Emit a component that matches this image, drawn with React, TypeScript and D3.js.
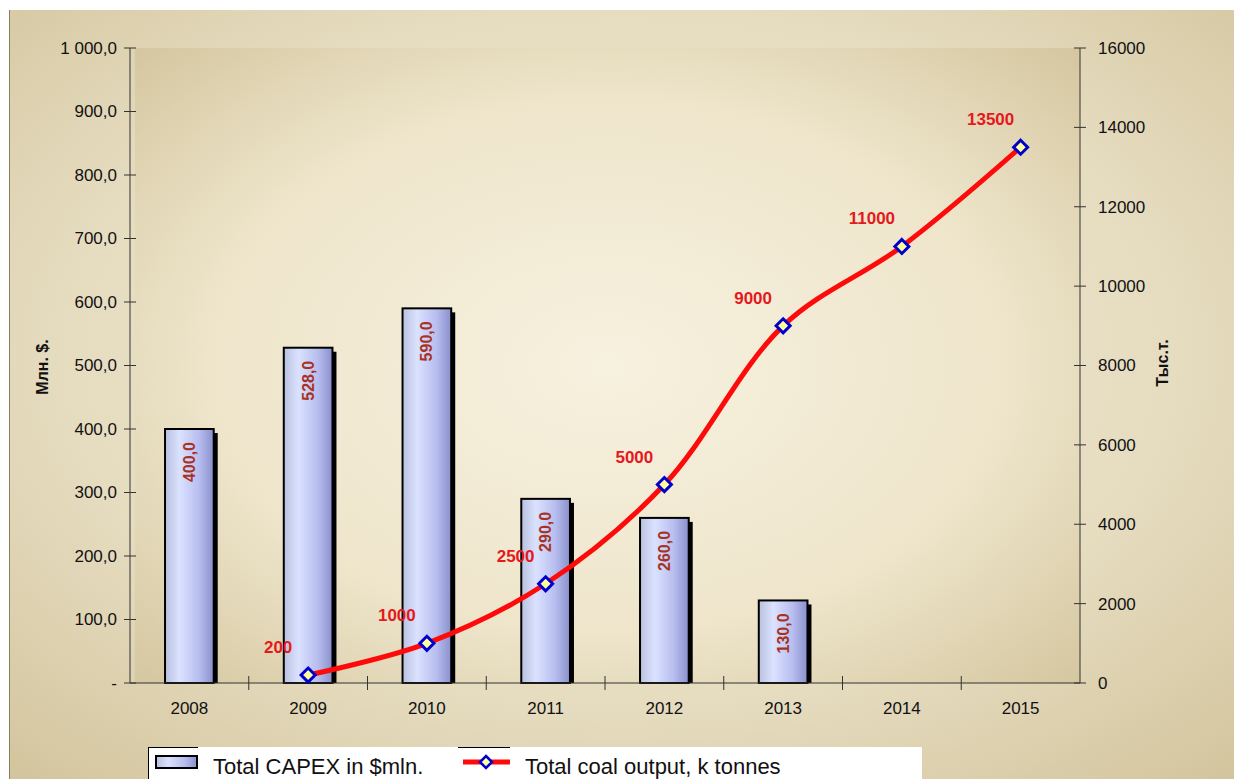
import * as d3 from "d3";
import React from "react";

const years = ["2008", "2009", "2010", "2011", "2012", "2013", "2014", "2015"];
const capex: (number | null)[] = [400, 528, 590, 290, 260, 130, null, null];
const coal: (number | null)[] = [null, 200, 1000, 2500, 5000, 9000, 11000, 13500];
const leftTicks = [0, 100, 200, 300, 400, 500, 600, 700, 800, 900, 1000];
const rightTicks = [0, 2000, 4000, 6000, 8000, 10000, 12000, 14000, 16000];

const W = 1234;
const H = 779;
const margin = { top: 48, right: 154, bottom: 96, left: 130 };
const FONT = "Liberation Sans, Arial, sans-serif";

function fmtLeft(v: number) {
  if (v === 0) return "-";
  const s = v.toFixed(1).replace(".", ",");
  const [i, f] = s.split(",");
  return i.replace(/\B(?=(\d{3})+(?!\d))/g, " ") + "," + f;
}

export default function App() {
  const x0 = margin.left;
  const x1 = W - margin.right;
  const y0 = H - margin.bottom;
  const y1 = margin.top;

  const x = d3.scaleBand<string>().domain(years).range([x0, x1]);
  const yL = d3.scaleLinear().domain([0, 1000]).range([y0, y1]);
  const yR = d3.scaleLinear().domain([0, 16000]).range([y0, y1]);
  const barW = x.bandwidth() * 0.41;
  const cx = (yr: string) => (x(yr) ?? 0) + x.bandwidth() / 2;

  const pts = years
    .map((yr, i) => ({ yr, v: coal[i] }))
    .filter(d => d.v != null) as { yr: string; v: number }[];
  const line = d3
    .line<{ yr: string; v: number }>()
    .x(d => cx(d.yr))
    .y(d => yR(d.v))
    .curve(d3.curveCatmullRom.alpha(0.5));

  const diamond = (px: number, py: number, r = 7) =>
    `M${px},${py - r}L${px + r},${py}L${px},${py + r}L${px - r},${py}Z`;

  return (
    <svg
      width={W}
      height={H}
      style={{ position: "absolute", left: 0, top: 0, fontFamily: FONT }}
    >
      <defs>
        <radialGradient id="outerBg" cx="50%" cy="45%" r="75%">
          <stop offset="0%" stopColor="#f1e9d2" />
          <stop offset="60%" stopColor="#e6dcc0" />
          <stop offset="100%" stopColor="#d2c49c" />
        </radialGradient>
        <radialGradient id="innerBg" cx="50%" cy="50%" r="70%">
          <stop offset="0%" stopColor="#f7f1df" />
          <stop offset="60%" stopColor="#eee5cb" />
          <stop offset="100%" stopColor="#d5c7a0" />
        </radialGradient>
        <linearGradient id="barGrad" x1="0" x2="1" y1="0" y2="0">
          <stop offset="0%" stopColor="#b9c1de" />
          <stop offset="30%" stopColor="#dbe2ff" />
          <stop offset="70%" stopColor="#b7bdee" />
          <stop offset="100%" stopColor="#8990cc" />
        </linearGradient>
      </defs>

      <rect x={0} y={0} width={W} height={H} fill="#ffffff" />
      <rect x={9} y={10} width={W - 9} height={H - 10} fill="url(#outerBg)" />
      <line x1={9.5} x2={9.5} y1={10} y2={H} stroke="#8a7d60" strokeWidth={1} />
      <rect x={x0 + 5} y={y1} width={x1 - x0 - 5} height={y0 - y1} fill="url(#innerBg)" />

      {/* bars */}
      {years.map((yr, i) => {
        const v = capex[i];
        if (v == null) return null;
        const bx = cx(yr) - barW / 2;
        const by = yL(v);
        return (
          <g key={yr}>
            <rect x={bx + 4} y={by + 4} width={barW} height={y0 - by - 4} fill="#000" />
            <rect
              x={bx}
              y={by}
              width={barW}
              height={y0 - by}
              fill="url(#barGrad)"
              stroke="#000"
              strokeWidth={2}
            />
            <text
              transform={`translate(${cx(yr)},${by + 13}) rotate(-90)`}
              textAnchor="end"
              dy="0.35em"
              fontSize={16}
              fontWeight="bold"
              fill="#a8321f"
            >
              {fmtLeft(v)}
            </text>
          </g>
        );
      })}

      {/* axes */}
      <g stroke="#333" strokeWidth={1} fill="none">
        <line x1={x0} x2={x0} y1={y1} y2={y0} />
        <line x1={x1} x2={x1} y1={y1} y2={y0} />
        <line x1={x0} x2={x1} y1={y0} y2={y0} />
        {leftTicks.map(t => (
          <line key={t} x1={x0 - 6} x2={x0 + 6} y1={yL(t)} y2={yL(t)} />
        ))}
        {rightTicks.map(t => (
          <line key={t} x1={x1 - 6} x2={x1 + 6} y1={yR(t)} y2={yR(t)} />
        ))}
        {years.slice(1).map(yr => (
          <line key={yr} x1={x(yr)} x2={x(yr)} y1={y0 - 7} y2={y0 + 7} />
        ))}
      </g>

      <g fontSize={17} fill="#111">
        {leftTicks.map(t => (
          <text key={t} x={x0 - 13} y={yL(t)} dy="0.35em" textAnchor="end">
            {fmtLeft(t)}
          </text>
        ))}
        {rightTicks.map(t => (
          <text key={t} x={x1 + 18} y={yR(t)} dy="0.35em" textAnchor="start">
            {t}
          </text>
        ))}
        {years.map(yr => (
          <text key={yr} x={cx(yr)} y={y0 + 31} textAnchor="middle">
            {yr}
          </text>
        ))}
      </g>

      <text
        transform={`translate(42,367) rotate(-90)`}
        textAnchor="middle"
        dy="0.35em"
        fontSize={16}
        fontWeight="bold"
        fill="#111"
      >
        Млн. $.
      </text>
      <text
        transform={`translate(1162,363) rotate(-90)`}
        textAnchor="middle"
        dy="0.35em"
        fontSize={16}
        fontWeight="bold"
        fill="#111"
      >
        Тыс.т.
      </text>

      {/* line series */}
      <path d={line(pts) ?? ""} fill="none" stroke="#ff0a0a" strokeWidth={5} strokeLinejoin="round" />
      {pts.map(p => (
        <g key={p.yr}>
          <path d={diamond(cx(p.yr), yR(p.v))} fill="#ffff9c" stroke="#0000cc" strokeWidth={3} />
          <text
            x={cx(p.yr) - 30}
            y={yR(p.v) - 28}
            textAnchor="middle"
            dy="0.35em"
            fontSize={17}
            fontWeight="bold"
            fill="#e5191c"
          >
            {p.v}
          </text>
        </g>
      ))}

      {/* legend */}
      <rect x={148} y={747} width={774} height={H - 747} fill="#ffffff" />
      <line x1={148.5} x2={148.5} y1={747} y2={H} stroke="#000" />
      <line x1={148} x2={198} y1={747.5} y2={747.5} stroke="#000" />
      <line x1={458} x2={510} y1={747.5} y2={747.5} stroke="#000" />
      <rect x={156} y={756} width={41} height={12} fill="url(#barGrad)" stroke="#000" strokeWidth={2} />
      <text x={213} y={774} fontSize={22} fill="#111">
        Total CAPEX in $mln.
      </text>
      <line x1={463} x2={510} y1={762} y2={762} stroke="#ff0a0a" strokeWidth={5} />
      <path d={diamond(486, 762, 6)} fill="#ffff9c" stroke="#0000cc" strokeWidth={2.5} />
      <text x={525} y={774} fontSize={22} fill="#111">
        Total coal output, k tonnes
      </text>
    </svg>
  );
}
